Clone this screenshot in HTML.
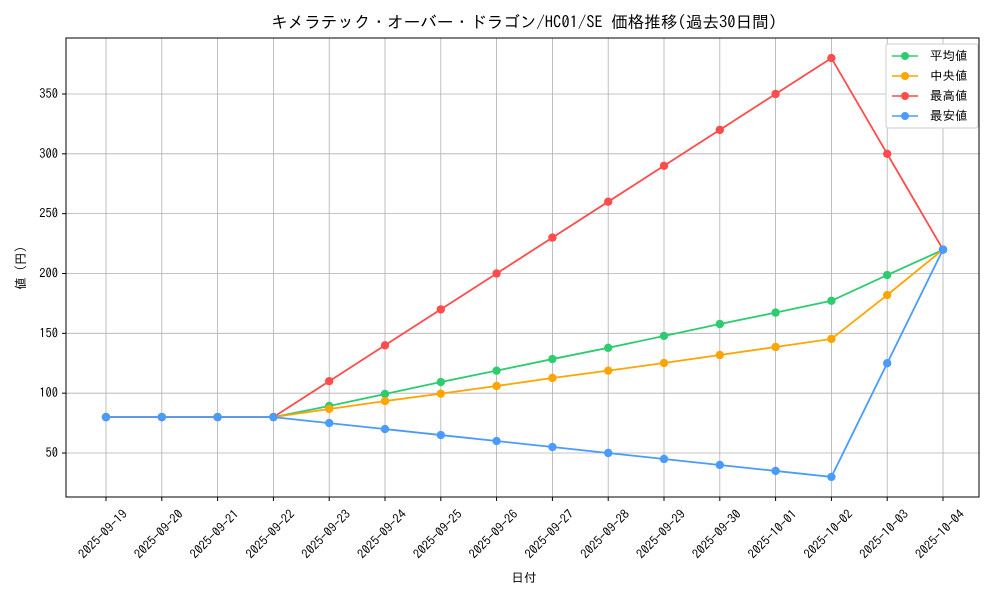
<!DOCTYPE html>
<html><head><meta charset="utf-8"><style>
html,body{margin:0;padding:0;background:#fff;}
svg{display:block;font-family:"IPAGothic","Noto Sans CJK JP",sans-serif;}
</style></head><body>
<svg width="1000" height="600" viewBox="0 0 1000 600" xmlns="http://www.w3.org/2000/svg">
<rect width="1000" height="600" fill="#fff"/>
<g id="grid" stroke="#b0b0b0" stroke-width="0.8"></g>
<rect x="66" y="38" width="913" height="459" fill="none" stroke="#000" stroke-width="1"/>
<g id="ticks" font-size="12.5" fill="#000"></g>
<g id="series"></g>
<text x="524" y="28" font-size="16.6" text-anchor="middle">キメラテック・オーバー・ドラゴン/HC01/SE 価格推移(過去30日間)</text>
<text x="524" y="582" font-size="12.5" text-anchor="middle">日付</text>
<text transform="translate(25,268) rotate(-90)" font-size="12.5" text-anchor="middle">値 (円)</text>
<g font-size="12.5">
<rect x="886" y="44" width="92" height="84" fill="#fff" stroke="#ccc" rx="2"/>
<line x1="892" y1="56" x2="918" y2="56" stroke="#2ecc71" stroke-width="1.5"/><circle cx="905" cy="56" r="4" fill="#2ecc71"/><text x="930" y="60">平均値</text>
<line x1="892" y1="76" x2="918" y2="76" stroke="#ffa500" stroke-width="1.5"/><circle cx="905" cy="76" r="4" fill="#ffa500"/><text x="930" y="80"> 中央値</text>
<line x1="892" y1="96" x2="918" y2="96" stroke="#ff4c4c" stroke-width="1.5"/><circle cx="905" cy="96" r="4" fill="#ff4c4c"/><text x="930" y="100">最高値</text>
<line x1="892" y1="116" x2="918" y2="116" stroke="#4a9bff" stroke-width="1.5"/><circle cx="905" cy="116" r="4" fill="#4a9bff"/><text x="930" y="120">最安値</text>
</g>
</svg>
<script>
const ns="http://www.w3.org/2000/svg";
const X=i=>106+i*55.8, Y=v=>453-(v-50)*1.1967;
const g=document.getElementById('grid'),t=document.getElementById('ticks'),s=document.getElementById('series');
function el(p,n,a,txt){const e=document.createElementNS(ns,n);for(const k in a)e.setAttribute(k,a[k]);if(txt)e.textContent=txt;p.appendChild(e);return e;}
const dates=["2025-09-19","2025-09-20","2025-09-21","2025-09-22","2025-09-23","2025-09-24","2025-09-25","2025-09-26","2025-09-27","2025-09-28","2025-09-29","2025-09-30","2025-10-01","2025-10-02","2025-10-03","2025-10-04"];
dates.forEach((d,i)=>{const x=X(i);el(g,'line',{x1:x,x2:x,y1:38,y2:497});el(t,'line',{x1:x,x2:x,y1:497,y2:501,stroke:'#000'});
el(t,'text',{transform:`translate(${x+22},${515}) rotate(-45)`,'text-anchor':'end'},d);});
[50,100,150,200,250,300,350].forEach(v=>{const y=Y(v);el(g,'line',{x1:66,x2:979,y1:y,y2:y});el(t,'line',{x1:62,x2:66,y1:y,y2:y,stroke:'#000'});
el(t,'text',{x:58,y:y+4,'text-anchor':'end'},String(v));});
const data=[
['#2ecc71',[80,80,80,80,89.3,99.3,109.3,118.8,128.5,137.9,147.8,157.8,167.3,177.2,198.7,219.8]],
['#ffa500',[80,80,80,80,86.8,93.4,99.6,106,112.7,118.8,125.2,131.9,138.6,145.3,182,220]],
['#ff4c4c',[80,80,80,80,110,140,170,200,230,260,290,320,350,380,300,220]],
['#4a9bff',[80,80,80,80,75,70,65,60,55,50,45,40,35,30,125,220]]];
data.forEach(([c,v])=>{el(s,'polyline',{points:v.map((a,i)=>X(i)+','+Y(a)).join(' '),fill:'none',stroke:c,'stroke-width':1.8});
v.forEach((a,i)=>el(s,'circle',{cx:X(i),cy:Y(a),r:4.2,fill:c}));});
</script>
</body></html>
